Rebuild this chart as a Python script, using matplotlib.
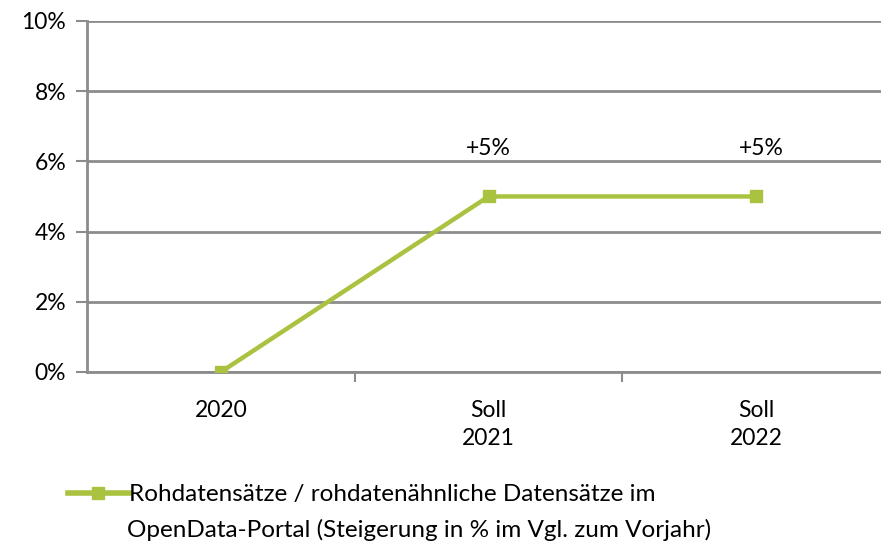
import matplotlib.pyplot as plt
import numpy as np

# Rohdatensätze im OpenData-Portal, Steigerung zum Vorjahr
categories = ['2020', 'Soll\n2021', 'Soll\n2022']
values = [0, 5, 5]
value_labels = [None, '+5%', '+5%']
y_ticks = [0, 2, 4, 6, 8, 10]
series_label = 'Rohdatensätze / rohdatenähnliche Datensätze im'
series_label_2 = 'OpenData-Portal (Steigerung in % im Vgl. zum Vorjahr)'

plt.rcParams['font.family'] = ['Lato', 'DejaVu Sans']
grid_color = '#8c8c8c'
line_color = '#a9c23f'

fig = plt.figure(figsize=(8.81, 5.42), dpi=100)
axes = fig.add_axes([0.0988, 0.3137, 0.9115, 0.6476])

x = np.arange(len(categories))
line, = axes.plot(x, values, color=line_color, linewidth=3.2, marker='s',
                  markersize=9, label=series_label, zorder=3)

for xi, val, lab in zip(x, values, value_labels):
    if lab:
        axes.annotate(lab, (xi, val), xytext=(4 if xi == 2 else 0, 27),
                      textcoords='offset points', ha='center', va='bottom',
                      fontsize=16.5)

axes.set_xlim(-0.5, 2.5)
axes.set_ylim(0, 10)
axes.set_yticks(y_ticks)
axes.set_yticklabels([f'{t}%' for t in y_ticks], fontsize=16.5)
axes.set_xticks(x)
axes.set_xticklabels(categories, fontsize=16.5, linespacing=1.4)
axes.set_xticks([0.5, 1.5], minor=True)
axes.tick_params(axis='x', which='major', length=0, pad=20)
axes.tick_params(axis='x', which='minor', length=7, width=1.5, color=grid_color)
axes.tick_params(axis='y', length=8, width=1.5, color=grid_color, pad=7)

axes.grid(axis='y', color=grid_color, linewidth=2)
axes.set_axisbelow(True)
for side in ('top', 'right'):
    axes.spines[side].set_visible(False)
axes.spines['left'].set_color(grid_color)
axes.spines['left'].set_linewidth(2)
axes.spines['bottom'].set_color(grid_color)
axes.spines['bottom'].set_linewidth(2)

# Legende: erste Zeile mit Symbol, zweite Zeile als eigener Text
leg = fig.legend(handles=[line], loc='center left', bbox_to_anchor=(0.077, 0.087),
                 frameon=False, fontsize=17.5, handlelength=2.5, handletextpad=0.0,
                 borderaxespad=0, borderpad=0)
leg.get_lines()[0].set_linewidth(4)
fig.text(0.144, 0.022, series_label_2, fontsize=17.5, ha='left', va='center')

fig.savefig('out.png', dpi=100)
